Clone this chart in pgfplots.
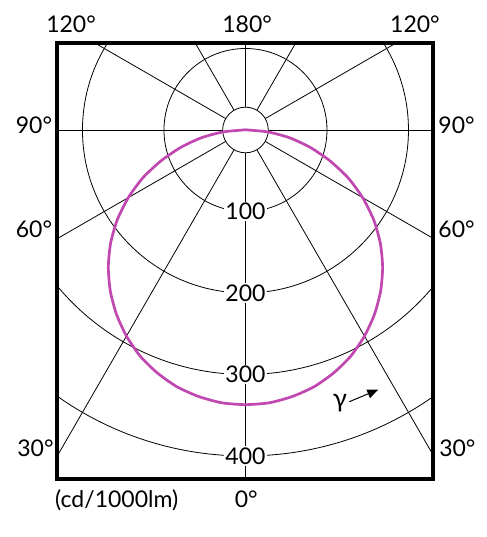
\documentclass[border=0pt]{standalone}
\usepackage{fontspec}
\setmainfont{Lato}
\usepackage{pgfplots}
\pgfplotsset{compat=1.18}
\usepackage{pgfplotstable}
\usetikzlibrary{arrows.meta}
\definecolor{curvecol}{RGB}{192,72,176}

% gamma (deg, negative = left half), intensity (cd/1000lm)
\pgfplotstableread{
gamma I
-180 0.5
-90 3
-85 28
-80 55
-75 82
-70 110
-65 139
-60 166
-55 192
-50 216
-45 238
-40 258
-35 276
-30 292
-25 306
-20 317
-15 326
-10 332
-5 336
0 337
5 336
10 332
15 326
20 317
25 306
30 292
35 276
40 258
45 238
50 216
55 192
60 166
65 139
70 110
75 82
80 55
85 28
90 3
180 0.5
}\lichttable

\begin{document}
\begin{tikzpicture}[font=\fontsize{23}{27}\selectfont]
\begin{axis}[
  x=0.815pt, y=0.815pt,
  xmin=-231.3, xmax=230, ymin=-428.2, ymax=106.7,
  axis lines=box,
  ticks=none,
  axis line style={line width=3.8pt},
  clip=false,
]
\begin{scope}
  \clip (axis cs:-231.3,-428.2) rectangle (axis cs:230,106.7);
  \pgfplotsinvokeforeach{100,200,300,400}{
    \draw[line width=0.8pt] (axis cs:0,0) circle[radius=#1];
  }
  \draw[line width=0.8pt] (axis cs:0,0) circle[radius=28];
  \pgfplotsinvokeforeach{0,30,60,90,120,150,180,210,240,270,300,330}{
    \draw[line width=0.8pt] (axis cs:{28*cos(#1)},{28*sin(#1)}) -- (axis cs:{700*cos(#1)},{700*sin(#1)});
  }
  \pgfplotsinvokeforeach{100,200,300,400}{
    \node[fill=white, inner sep=1.5pt] at (axis cs:0,-#1) {#1};
  }
\end{scope}

\addplot[curvecol, line width=2.7pt, smooth, tension=0.4, data cs=polar]
  table[x expr=\thisrow{gamma}-90, y=I] {\lichttable};

% angle labels
\node[anchor=base] at (axis cs:-214,120.2) {120°};
\node[anchor=base] at (axis cs:2,120.2) {180°};
\node[anchor=base] at (axis cs:208,120.2) {120°};
\node[anchor=base] at (axis cs:-259.5,-4.9) {90°};
\node[anchor=base] at (axis cs:259,-4.9) {90°};
\node[anchor=base] at (axis cs:-259.5,-132.5) {60°};
\node[anchor=base] at (axis cs:259,-132.5) {60°};
\node[anchor=base] at (axis cs:-257.7,-401) {30°};
\node[anchor=base] at (axis cs:260,-401) {30°};
\node[anchor=base] at (axis cs:-158,-463.8) {(cd/1000lm)};
\node[anchor=base] at (axis cs:1,-463.8) {0°};

% gamma arrow
\node[font=\fontsize{26}{28}\selectfont] at (axis cs:116,-335) {γ};
\draw[line width=1pt, -{Triangle[length=11pt,width=9pt]}] (axis cs:127.4,-333.4) -- (axis cs:163,-318.5);

\coordinate (BL) at (axis cs:-301.2,-499.4);
\coordinate (TR) at (axis cs:296.3,159.5);
\end{axis}
\pgfresetboundingbox
\path[use as bounding box] (BL) rectangle (TR);
\end{tikzpicture}
\end{document}
